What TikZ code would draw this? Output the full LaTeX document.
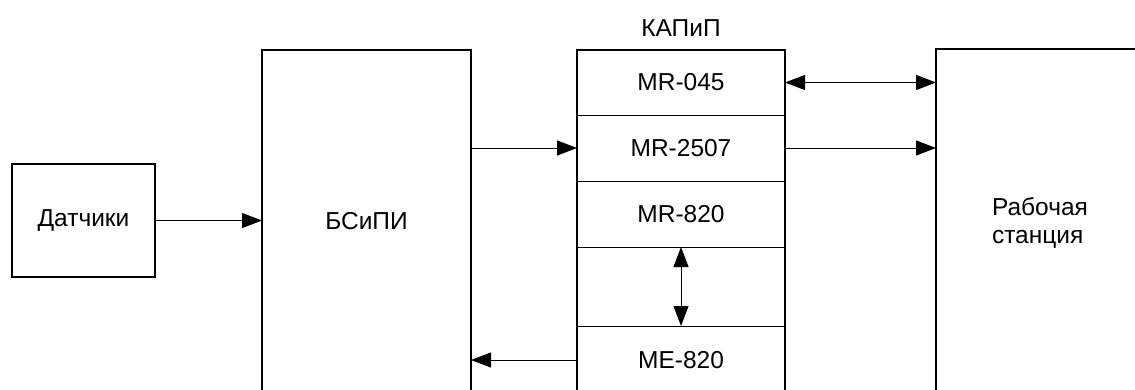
\documentclass[tikz,border=0pt]{standalone}
\usepackage{fontspec}
\setmainfont{Liberation Sans}
\usetikzlibrary{arrows.meta,positioning}

\begin{document}
\begin{tikzpicture}[
  x=1pt,y=-1pt,
  font=\fontsize{24.5}{28}\selectfont,
  box/.style={rectangle,draw,line width=2.8pt,inner sep=0pt,outer sep=0pt},
  row/.style={rectangle,draw,line width=1pt,minimum width=208pt,
              inner sep=0pt,outer sep=0pt},
  arr/.style={-{Triangle[length=20pt,width=15pt]},line width=1pt},
  darr/.style={{Triangle[length=20pt,width=15pt]}-{Triangle[length=20pt,width=15pt]},
               line width=1pt}
]
  \useasboundingbox (0,0) rectangle (1135,389);
  \clip (0,0) rectangle (1135,389);

  \node[box,minimum width=143pt,minimum height=113pt] (sens) at (83.5,220.5) {Датчики};
  \node[box,minimum width=209pt,minimum height=342pt] (bsipi) at (366.5,221) {БСиПИ};

  % KAPiP stack
  \node[row,minimum height=65pt] (r1) at (681,82.5) {MR-045};
  \node[row,minimum height=66pt,below=0pt of r1] (r2) {MR-2507};
  \node[row,minimum height=66pt,below=0pt of r2] (r3) {MR-820};
  \node[row,minimum height=79pt,below=0pt of r3] (r4) {};
  \node[row,minimum height=68pt,below=0pt of r4] (r5) {ME-820};
  \draw[line width=2.8pt] (r5.south west) |- (r1.north east) -- (r5.south east);
  \node[above=13pt of r1,inner sep=0pt] (kapip) {КАПиП};

  \node[box,minimum width=208pt,minimum height=348pt,align=left] (ws) at (1040,223)
       {Рабочая\\станция};

  \draw[arr] (sens.east) -- (sens.east -| bsipi.west);
  \draw[arr] (bsipi.east |- r2) -- (r2.west);
  \draw[arr] (r5.west) -- (r5.west -| bsipi.east);
  \draw[darr] (r1.east) -- (r1.east -| ws.west);
  \draw[arr] (r2.east) -- (r2.east -| ws.west);
  \draw[darr] (r4.north) -- (r4.south);
\end{tikzpicture}
\end{document}
